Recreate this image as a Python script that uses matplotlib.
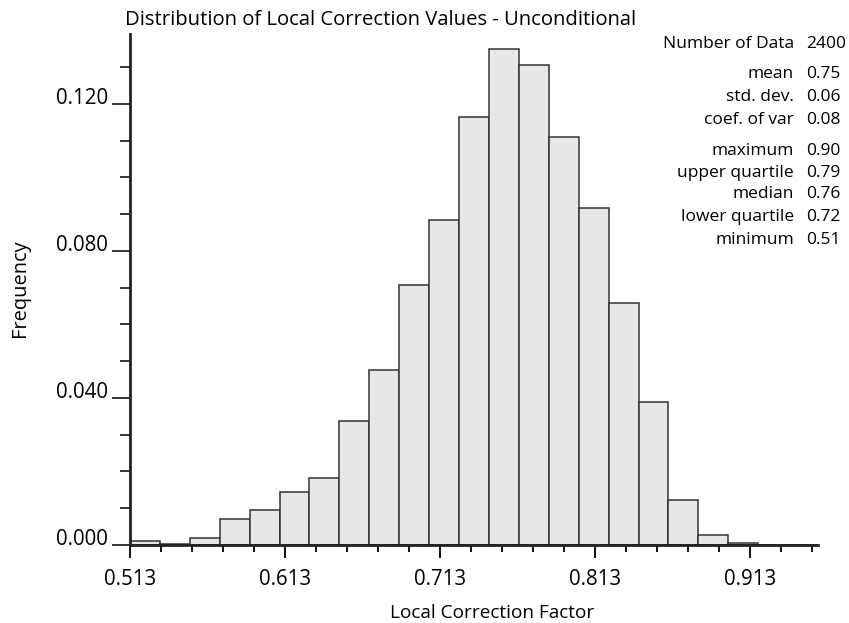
import numpy as np
import matplotlib

matplotlib.use("Agg")
import matplotlib.pyplot as plt
from matplotlib.ticker import FixedLocator, FormatStrFormatter

plt.rcParams["font.family"] = ["Open Sans", "DejaVu Sans"]

# histogram of the local correction factor (relative frequency per class)
bin_start = 0.513
bin_width = 0.0193
frequency = [
    0.0011, 0.0004, 0.0018, 0.0072, 0.0096, 0.0143, 0.0183, 0.0337,
    0.0477, 0.0707, 0.0885, 0.1164, 0.1350, 0.1307, 0.1109, 0.0917,
    0.0659, 0.0389, 0.0122, 0.0026, 0.0005, 0.0, 0.0,
]

stat_names = ["Number of Data", "mean", "std. dev.", "coef. of var",
              "maximum", "upper quartile", "median", "lower quartile", "minimum"]
stat_values = ["2400", "0.75", "0.06", "0.08", "0.90", "0.79", "0.76", "0.72", "0.51"]

x_major = [0.513, 0.613, 0.713, 0.813, 0.913]
y_major = [0.000, 0.040, 0.080, 0.120]

W, H = 849, 623
fig = plt.figure(figsize=(W / 100, H / 100), dpi=100)
ax = fig.add_axes([130 / W, 1 - 545 / H, 688 / W, 511 / H])

lefts = bin_start + bin_width * np.arange(len(frequency))
ax.bar(lefts, frequency, width=bin_width, align="edge",
       color="#e6e7e8", edgecolor="#333333", linewidth=1.1, zorder=2)

x_end = bin_start + bin_width * len(frequency)
ax.set_xlim(bin_start, x_end)
ax.set_ylim(0, 0.139)

for side in ("top", "right"):
    ax.spines[side].set_visible(False)
for side in ("left", "bottom"):
    ax.spines[side].set_linewidth(2.0)
    ax.spines[side].set_color("#222222")
    ax.spines[side].set_zorder(3)

ax.xaxis.set_major_locator(FixedLocator(x_major))
ax.xaxis.set_minor_locator(FixedLocator(np.arange(bin_start, x_end, 0.02)))
ax.yaxis.set_major_locator(FixedLocator(y_major))
ax.yaxis.set_minor_locator(FixedLocator(np.arange(0, 0.135, 0.01)))
ax.xaxis.set_major_formatter(FormatStrFormatter("%.3f"))
ax.yaxis.set_major_formatter(FormatStrFormatter("%.3f"))

ax.tick_params(axis="x", which="major", length=9, width=1.3, pad=8, labelsize=14.8)
ax.tick_params(axis="x", which="minor", length=5, width=1.3)
ax.tick_params(axis="y", which="major", length=13, width=1.1, pad=3, labelsize=14.8)
ax.tick_params(axis="y", which="minor", length=7, width=1.1)
for lab in ax.get_yticklabels():
    lab.set_verticalalignment("baseline")

fig.text(125 / W, 1 - 20 / H, "Distribution of Local Correction Values - Unconditional",
         fontsize=14.6, va="center", ha="left")
fig.text(492 / W, 1 - 613 / H, "Local Correction Factor",
         fontsize=13.7, va="center", ha="center")
fig.text(20 / W, 1 - 288 / H, "Frequency",
         fontsize=14.4, va="center", ha="center", rotation=90)

row_y = [44, 74, 97, 120, 151, 173, 194, 217, 240]
for name, value, y in zip(stat_names, stat_values, row_y):
    fig.text(794 / W, 1 - y / H, name, fontsize=12.5, ha="right", va="center")
    fig.text(806 / W, 1 - y / H, value, fontsize=12.5, ha="left", va="center")

fig.savefig("out.png", dpi=100)
